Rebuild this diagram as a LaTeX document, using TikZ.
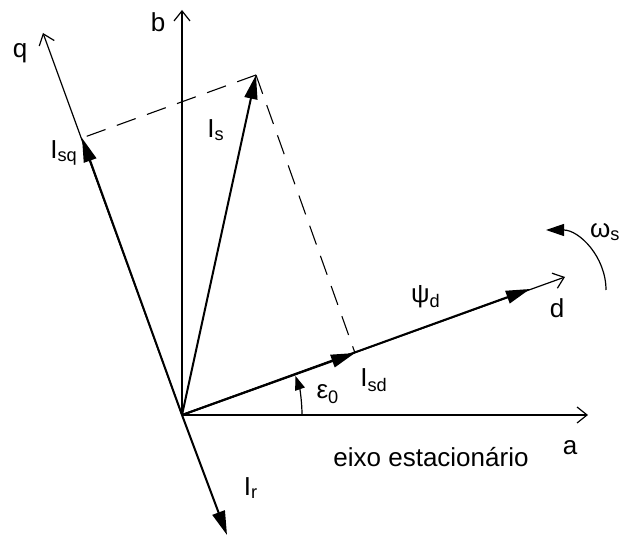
\documentclass[tikz,border=0pt]{standalone}
\usepackage{fontspec}
\setmainfont{Liberation Sans}
\usetikzlibrary{arrows.meta}

\begin{document}
\begin{tikzpicture}[
x=0.5pt, y=0.5pt,
axis/.style={line width=0.6pt, -{Straight Barb[length=5pt,width=8pt]}},
vec/.style={line width=1pt, -{Triangle[length=12pt,width=6.5pt]}},
proj/.style={line width=0.55pt, dash pattern=on 10pt off 6pt},
lbl/.style={inner sep=0pt, font=\fontsize{13}{15}\selectfont}
]
\useasboundingbox (0,0) rectangle (623,541);

% frame points
\coordinate (O) at (182,126);
\coordinate (a) at (588,126);
\coordinate (b) at (182,531);
\coordinate (q) at (43,508);
\coordinate (d) at (565,264);
\coordinate (Ir) at (227,6);
\coordinate (Isq) at (82,403);
\coordinate (Is) at (256,466);
\coordinate (Isd) at (355,188);
\coordinate (Psi) at (530,252);
\coordinate (w1) at (606,251);

% stationary and rotating axes
\draw[axis] (O) -- (a);
\draw[axis] (O) -- (b);
\draw[axis] (O) -- (q);
\draw[axis] (O) -- (d);

% vectors
\draw[vec] (O) -- (Is);
\draw[vec] (O) -- (Isq);
\draw[vec] (O) -- (Isd);
\draw[vec] (O) -- (Psi);
\draw[vec] (O) -- (Ir);

% projections
\draw[proj] (Is) -- (Isq);
\draw[proj] (Is) -- (Isd);

% angle and rotation
\draw[line width=0.6pt, -{Triangle[length=7pt,width=5pt]}] ([shift={(120,0)}]O) arc[start angle=0, end angle=19, radius=120];
\draw[line width=0.6pt, -{Triangle[length=9pt,width=6pt]}] (w1) arc[start angle=0, end angle=90, radius=60];

% labels
\node[lbl] (lq) at (20,488) {q};
\node[lbl] (lb) at (158,519) {b};
\node[lbl] (lIs) at (216,411) {I\textsubscript{s}};
\node[lbl] (lIsq) at (64,388) {I\textsubscript{sq}};
\node[lbl] (lIr) at (251,53) {I\textsubscript{r}};
\node[lbl] (leps) at (328,147) {ε\textsubscript{0}};
\node[lbl] (lIsd) at (374,161) {I\textsubscript{sd}};
\node[lbl] (lpsi) at (426,244) {ψ\textsubscript{d}};
\node[lbl] (ld) at (557,233) {d};
\node[lbl] (la) at (570,93) {a};
\node[lbl] (leixo) at (431,84) {eixo estacionário};
\node[lbl, anchor=east] (lw) at (621,309) {ω\textsubscript{s}};
\end{tikzpicture}
\end{document}
